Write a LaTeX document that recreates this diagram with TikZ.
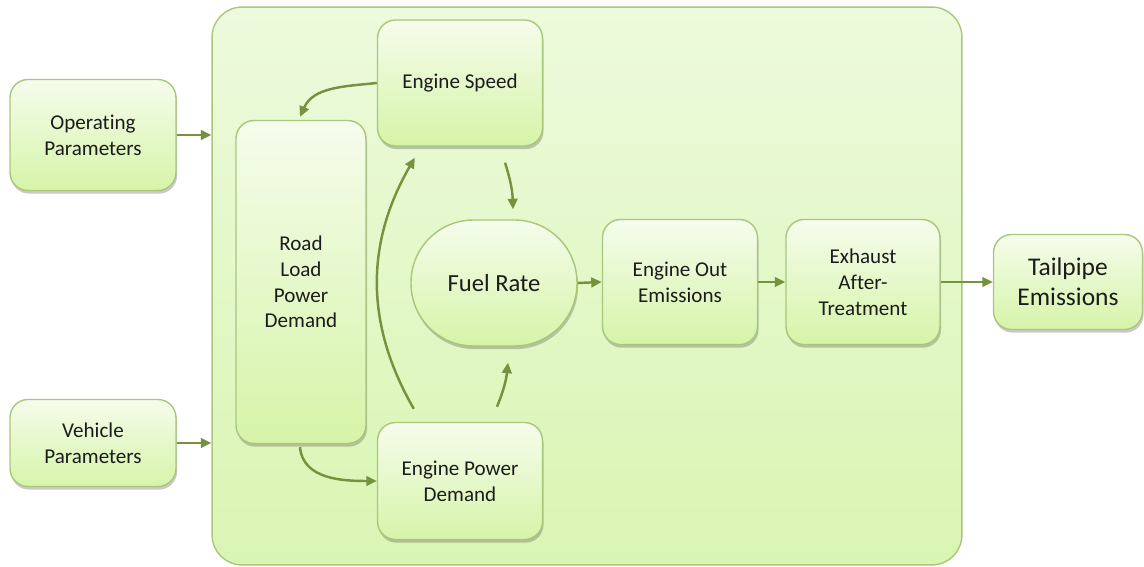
\documentclass[tikz,border=0pt]{standalone}
\usepackage{fontspec}
\setmainfont{Carlito}[Ligatures=CommonOff]
\usetikzlibrary{arrows.meta,shadows,calc}
\definecolor{boxline}{HTML}{A9C77B}
\definecolor{boxtop}{HTML}{F5FCEC}
\definecolor{boxbot}{HTML}{D6F4A8}
\definecolor{frametop}{HTML}{EDFADD}
\definecolor{framebot}{HTML}{D9F5B2}
\definecolor{arrowgreen}{HTML}{76923C}
\definecolor{textdark}{HTML}{1C1C1C}
\begin{document}
\begin{tikzpicture}[x=0.02cm,y=-0.02cm,
    box/.style={draw=boxline,line width=0.8pt,rounded corners=0.36cm,
      top color=boxtop,bottom color=boxbot,
      drop shadow={shadow xshift=0.6pt,shadow yshift=-1.8pt,opacity=0.3,fill=black!70},
      align=center,text=textdark,font=\fontsize{12}{14.7}\selectfont,inner sep=2pt},
    flow/.style={draw=arrowgreen,line width=1.4pt,-{Triangle[length=6pt,width=5.5pt]}}]
  \useasboundingbox (0,0) rectangle (1144,567);
  % container
  \node[draw=boxline,line width=0.8pt,rounded corners=0.6cm,top color=frametop,bottom color=framebot,
    minimum width=15cm,minimum height=11.16cm] (frame) at (587,286) {};
  % inputs
  \node[box,minimum width=3.32cm,minimum height=2.22cm] (oppar) at (93,135) {Operating\\Parameters};
  \node[box,minimum width=3.32cm,minimum height=1.74cm] (vehpar) at (93,443) {Vehicle\\Parameters};
  % inner blocks
  \node[box,minimum width=2.6cm,minimum height=6.46cm] (road) at (301,282) {Road\\Load\\Power\\Demand};
  \node[box,minimum width=3.3cm,minimum height=2.52cm] (speed) at (460,83) {Engine Speed};
  \node[box,minimum width=3.3cm,minimum height=2.34cm] (power) at (460,481) {Engine Power\\Demand};
  \node[box,rounded corners=1.25cm,minimum width=3.32cm,minimum height=2.52cm,
    font=\fontsize{14}{17}\selectfont] (fuel) at (494,283) {Fuel Rate};
  \node[box,minimum width=3.1cm,minimum height=2.5cm] (engout) at (680,282) {Engine Out\\Emissions};
  \node[box,minimum width=3.08cm,minimum height=2.5cm] (aftert) at (863,282) {Exhaust\\After-\\Treatment};
  % output
  \node[box,minimum width=2.98cm,minimum height=1.9cm,font=\fontsize{14.5}{17}\selectfont] (tailp) at (1068,282) {Tailpipe\\Emissions};
  % connectors
  \draw[flow] (oppar.east) -- (oppar.east -| frame.west);
  \draw[flow] (vehpar.east) -- (vehpar.east -| frame.west);
  \draw[flow] (speed.west) to[out=186,in=66] ($(road.north)+(-1,-3)$);
  \draw[flow] ($(road.south)+(-1,3)$) to[out=-85,in=180] (power.west);
  \draw[flow] ($(power.north west)+(37,-13)$) to[out=120,in=-120] ($(speed.south west)+(38,11)$);
  \draw[flow] ($(speed.south)+(45,16)$) to[bend left=8] ($(fuel.north)+(19,-10)$);
  \draw[flow] ($(power.north)+(37,-15)$) to[bend right=8] ($(fuel.south)+(14,16)$);
  \draw[flow] (fuel.east) -- (engout.west);
  \draw[flow] (engout.east) -- (aftert.west);
  \draw[flow] (aftert.east) -- (tailp.west);
\end{tikzpicture}
\end{document}
